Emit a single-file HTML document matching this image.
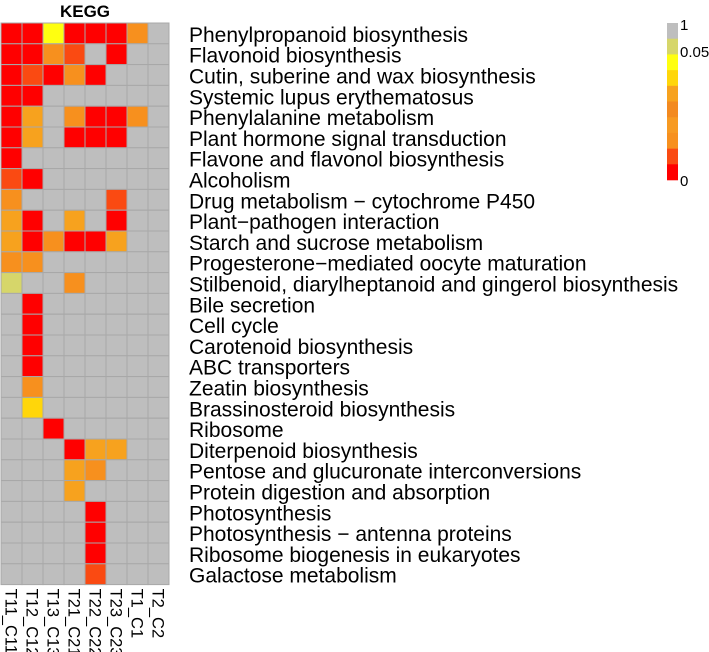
<!DOCTYPE html>
<html><head><meta charset="utf-8"><style>
body{margin:0;background:#fff;}
svg{display:block;font-family:"Liberation Sans",Arial,sans-serif;}
</style></head><body>
<svg id="chart" width="709" height="652">
<text x="85" y="17" text-anchor="middle" font-weight="bold" font-size="17">KEGG</text>
<g id="cells"></g><g id="rowlabels"></g><g id="collabels"></g><g id="legend"></g>
</svg>
<script>
const pathways=["Phenylpropanoid biosynthesis","Flavonoid biosynthesis","Cutin, suberine and wax biosynthesis","Systemic lupus erythematosus","Phenylalanine metabolism","Plant hormone signal transduction","Flavone and flavonol biosynthesis","Alcoholism","Drug metabolism \u2212 cytochrome P450","Plant\u2212pathogen interaction","Starch and sucrose metabolism","Progesterone\u2212mediated oocyte maturation","Stilbenoid, diarylheptanoid and gingerol biosynthesis","Bile secretion","Cell cycle","Carotenoid biosynthesis","ABC transporters","Zeatin biosynthesis","Brassinosteroid biosynthesis","Ribosome","Diterpenoid biosynthesis","Pentose and glucuronate interconversions","Protein digestion and absorption","Photosynthesis","Photosynthesis \u2212 antenna proteins","Ribosome biogenesis in eukaryotes","Galactose metabolism"];
const samples=["T11_C11","T12_C12","T13_C13","T21_C21","T22_C22","T23_C23","T1_C1","T2_C2"];
// p-values (1 = not significant)
const pvals=[
[0,0,0.045,0,0,0,0.02,1],
[0,0,0.02,0.006,1,0,1,1],
[0,0.006,0,0.02,0,1,1,1],
[0,0,1,1,1,1,1,1],
[0,0.025,1,0.02,0,0,0.02,1],
[0,0.025,1,0,0,0,1,1],
[0,1,1,1,1,1,1,1],
[0.006,0,1,1,1,1,1,1],
[0.02,1,1,1,1,0.006,1,1],
[0.025,0,1,0.025,1,0,1,1],
[0.025,0,0.02,0,0,0.025,1,1],
[0.02,0.02,1,1,1,1,1,1],
[0.05,1,1,0.02,1,1,1,1],
[1,0,1,1,1,1,1,1],
[1,0,1,1,1,1,1,1],
[1,0,1,1,1,1,1,1],
[1,0,1,1,1,1,1,1],
[1,0.02,1,1,1,1,1,1],
[1,0.04,1,1,1,1,1,1],
[1,1,0,1,1,1,1,1],
[1,1,1,0,0.025,0.025,1,1],
[1,1,1,0.025,0.02,1,1,1],
[1,1,1,0.025,1,1,1,1],
[1,1,1,1,0,1,1,1],
[1,1,1,1,0,1,1,1],
[1,1,1,1,0,1,1,1],
[1,1,1,1,0.006,1,1,1]];
const legendColors=["#bebebe","#d6d66a","#ffff10","#ffd60a","#f7a21e","#f38a20","#f79a22","#f7901e","#fa4a12","#ff0000"];
function colorFor(p){
 if(p>0.05) return "#bebebe";
 if(p>=0.05) return "#d6d66a";
 if(p>=0.045) return "#ffff10";
 if(p>=0.035) return "#ffd60a";
 if(p>=0.022) return "#f7a21e";
 if(p>=0.01) return "#f7901e";
 if(p>0) return "#fa4a12";
 return "#ff0000";
}
const NS="http://www.w3.org/2000/svg";
const x0=1,y0=23,cw=21,rh=20.8;
const xs=i=>x0+i*cw, ys=j=>y0+j*rh;
const cells=document.getElementById('cells');
pvals.forEach((row,j)=>row.forEach((p,i)=>{
 const r=document.createElementNS(NS,'rect');
 r.setAttribute('x',xs(i));r.setAttribute('y',ys(j));r.setAttribute('width',cw);r.setAttribute('height',rh);
 r.setAttribute('fill',colorFor(p));r.setAttribute('stroke','#a8a8a8');r.setAttribute('stroke-width','1');
 
 
 cells.appendChild(r);
}));
const rl=document.getElementById('rowlabels');
pathways.forEach((t,j)=>{
 const e=document.createElementNS(NS,'text');
 e.setAttribute('x',189);e.setAttribute('y',ys(j)+rh/2+8.5);e.setAttribute('font-size','21');
 e.textContent=t;
 
 
 rl.appendChild(e);
});
const cl=document.getElementById('collabels');
samples.forEach((t,i)=>{
 const e=document.createElementNS(NS,'text');
 const cx=xs(i)+cw/2-6, cy=ys(pvals.length)+4;
 e.setAttribute('transform','translate('+cx+','+cy+') rotate(90)');
 e.setAttribute('font-size','16.5');
 e.textContent=t;
 
 
 cl.appendChild(e);
});
const lg=document.getElementById('legend');
const lh=(180-23)/legendColors.length;
legendColors.forEach((c,k)=>{
 const r=document.createElementNS(NS,'rect');
 r.setAttribute('x',667);r.setAttribute('y',23+k*lh);r.setAttribute('width',11);r.setAttribute('height',lh+0.3);r.setAttribute('fill',c);
 
 
 lg.appendChild(r);
});
[["1",30],["0.05",57],["0",186]].forEach(([t,y])=>{
 const e=document.createElementNS(NS,'text');
 e.setAttribute('x',680);e.setAttribute('y',y);e.setAttribute('font-size','15');e.textContent=t;
 
 
 lg.appendChild(e);
});
</script>
</body></html>
